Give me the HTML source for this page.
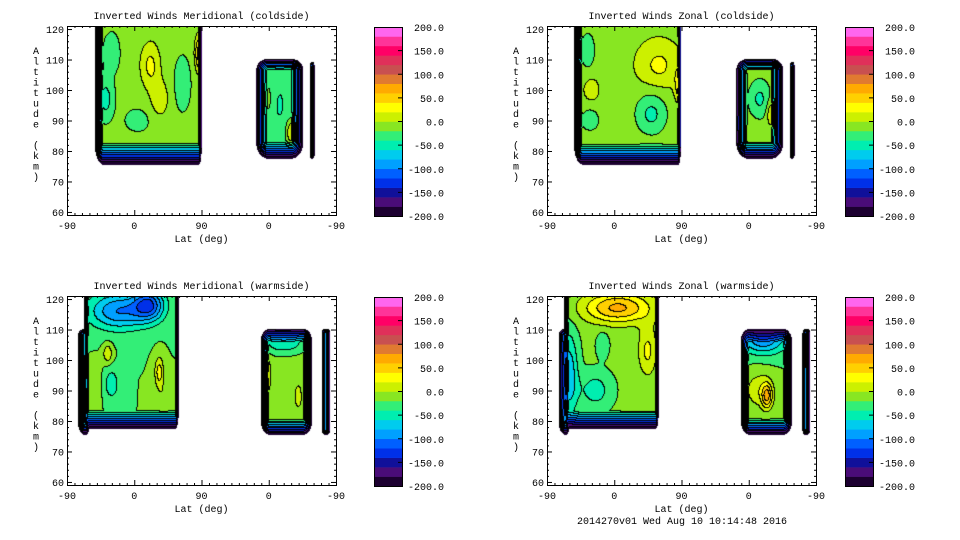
<!DOCTYPE html>
<html><head><meta charset="utf-8">
<style>
html,body{margin:0;padding:0;background:#fff;}
#root{position:relative;width:960px;height:540px;overflow:hidden;background:#fff;font-family:"Liberation Mono",monospace;}
canvas{position:absolute;}
svg{position:absolute;left:0;top:0;}
text{font-family:"Liberation Mono",monospace;font-size:10px;fill:#000;}
</style></head>
<body>
<div id="root">
<svg id="svg" width="960" height="540"></svg>
</div>
<script>
// ---- data ----
const levelColors = ["#1c0030","#4a0c78","#10109a","#0030e8","#0060ff","#00a0ff","#00ccee","#00eeb0","#33ee77","#88e622","#ccf000","#ffff00","#ffd000","#ffaa00","#e07a30","#c85050","#e0305a","#ff0066","#ff3399","#ff66ee"];
const cbLabels = ["200.0","150.0","100.0","50.0","0.0","-50.0","-100.0","-150.0","-200.0"];
const yTicks = [60,70,80,90,100,110,120];
const xTickUnits = [0,90,180,270,360];
const xTickLabels = ["-90","0","90","0","-90"];
const panelTitles = ["Inverted Winds Meridional (coldside)","Inverted Winds Zonal (coldside)","Inverted Winds Meridional (warmside)","Inverted Winds Zonal (warmside)"];
// regions: [u0,u1,altLo,altHi,base,marginL,marginR,marginB,marginT]
const regionsP1 = [[36,180,75.5,125,-15,9,3,22,0],[252,316,77.5,110.5,-30,12,12,17,12],[324,331,77.5,109.5,-80,2.5,2.5,5,5]];
const regionsP2 = [[35,179,75.5,125,-5,9,3,22,0],[252,316,77.5,110.5,-15,12,12,17,12],[324,331,77.5,109.5,-80,2.5,2.5,5,5]];
const regionsP3 = [[14,30,75.5,110.5,-60,7,4,12,6],[22,149,77.5,125,-20,5,3,18,0],[258,328,75.5,110.5,-10,9,9,16,14],[340,352,75.5,110.5,-90,3.5,3.5,5,5]];
const regionsP4 = [[15,30,75.5,110.5,-60,7,4,12,6],[22,149,77.5,125,-15,5,3,18,0],[258,328,75.5,110.5,-20,9,9,16,14],[341,352,75.5,110.5,-90,3.5,3.5,5,5]];
// blobs: [u,alt,amplitude,sigmaU,sigmaAlt]
const blobsP1 = [[112,108,40,14,8],[125,97,30,12,6],[52,97,-35,10,6],[178,112,70,6,6],[155,102,-20,10,8],[60,112,-20,10,6],[95,90,-12,18,4],[300,86,50,6,4],[270,97,15,7,6],[285,95,-12,10,8]];
const blobsP2 = [[150,108,30,25,7],[178,102,50,6,5],[140,92,-40,22,7],[58,90,-30,14,4],[55,113,-35,10,6],[60,100,25,8,3],[300,92,35,5,4],[285,97,-30,12,5],[257,89,20,4,3]];
const blobsP3 = [[70,116,-80,40,6],[110,118,-90,20,5],[60,92,-35,10,5],[55,102,40,6,3],[124,96,50,6,5],[40,92,10,10,6],[130,88,15,10,5],[268,95,35,5,5],[310,88,20,5,4],[290,106,-50,30,4]];
const blobsP4 = [[95,117,80,45,5],[135,103,40,12,8],[30,95,-60,12,14],[65,90,-35,22,6],[75,105,-25,8,4],[295,88,70,7,4],[285,90,35,20,6],[290,107,-80,30,5]];

const panels = [
 {px:67, py:26, cbx:374, name:"meridional-coldside", regions:regionsP1, blobs:blobsP1, title:panelTitles[0]},
 {px:547,py:26, cbx:845, name:"zonal-coldside", regions:regionsP2, blobs:blobsP2, title:panelTitles[1]},
 {px:67, py:296,cbx:374, name:"meridional-warmside", regions:regionsP3, blobs:blobsP3, title:panelTitles[2]},
 {px:547,py:296,cbx:845, name:"zonal-warmside", regions:regionsP4, blobs:blobsP4, title:panelTitles[3]}
];
const W=269, H=189, ALT0=59, ALT1=121;
const svg=document.getElementById('svg');
const root=document.getElementById('root');
const NS="http://www.w3.org/2000/svg";
function mk(tag,attrs,parent){const e=document.createElementNS(NS,tag);for(const k in attrs)e.setAttribute(k,attrs[k]);(parent||svg).appendChild(e);return e;}
function xs(u){return u/360*W;}
function ys(a){return H-(a-ALT0)/(ALT1-ALT0)*H;}

panels.forEach((p,pi)=>{
  const cv=document.createElement('canvas');
  cv.width=W;cv.height=H;cv.style.left=p.px+'px';cv.style.top=p.py+'px';
  
  
  root.insertBefore(cv,svg);
  const ctx=cv.getContext('2d');
  const lev=new Int16Array(W*H).fill(-1);
  for(let y=0;y<H;y++){
    const alt=ALT0+(H-y-0.5)/H*(ALT1-ALT0);
    for(let x=0;x<W;x++){
      const u=(x+0.5)/W*360;
      let f=0;
      for(const b of p.blobs){const du=(u-b[0])/b[3],da=(alt-b[1])/b[4];f+=b[2]*Math.exp(-(du*du+da*da));}
      let best=-999;
      for(const r of p.regions){
        const x0=xs(r[0]),x1=xs(r[1]),y0=ys(r[3]),y1=ys(r[2]);
        if(x<x0||x>x1||y<y0||y>y1)continue;
        const dl=x-x0,dr=x1-x,db=y1-y,dt=y-y0;
        let tx=Math.min(r[5]>0?dl/r[5]:1,r[6]>0?dr/r[6]:1,1);
        let ty=Math.min(r[7]>0?db/r[7]:1,r[8]>0?dt/r[8]:1,1);
        let t=1-Math.sqrt((1-tx)*(1-tx)+(1-ty)*(1-ty));
        if(t<0)continue;
        const v=-205+t*(r[4]+f+205);
        if(v>best)best=v;
      }
      if(best>-200){lev[y*W+x]=Math.max(0,Math.min(19,Math.floor((best+200)/20)));}
    }
  }
  const img=ctx.createImageData(W,H);
  const rgb=levelColors.map(c=>[parseInt(c.substr(1,2),16),parseInt(c.substr(3,2),16),parseInt(c.substr(5,2),16)]);
  for(let y=0;y<H;y++)for(let x=0;x<W;x++){
    const i=y*W+x,l=lev[i];if(l<0)continue;
    let c=rgb[l];
    const r=x+1<W?lev[i+1]:l, d=y+1<H?lev[i+W]:l;
    if((r>=0&&r!==l)||(d>=0&&d!==l))c=[0,0,0];
    img.data[i*4]=c[0];img.data[i*4+1]=c[1];img.data[i*4+2]=c[2];img.data[i*4+3]=255;
  }
  ctx.putImageData(img,0,0);

  const g=mk('g',{});
  const fr=mk('rect',{x:p.px+0.5,y:p.py+0.5,width:W,height:H,fill:'none',stroke:'#000','stroke-width':1},g);
  
  for(let a=60;a<=120;a+=2){
    const yy=p.py+ys(a)+0.5, maj=a%10===0, L=maj?5:2;
    mk('line',{x1:p.px,x2:p.px+L,y1:yy,y2:yy,stroke:'#000'},g);
    mk('line',{x1:p.px+W-L,x2:p.px+W,y1:yy,y2:yy,stroke:'#000'},g);
  }
  yTicks.forEach(a=>{
    const t=mk('text',{x:p.px-3,y:p.py+ys(a)+4,'text-anchor':'end'},g);t.textContent=a;
    
  });
  for(let u=0;u<=360;u+=10){
    const xx=p.px+xs(u)+0.5, maj=u%90===0, L=maj?5:2;
    mk('line',{x1:xx,x2:xx,y1:p.py+H,y2:p.py+H-L,stroke:'#000'},g);
    mk('line',{x1:xx,x2:xx,y1:p.py,y2:p.py+L,stroke:'#000'},g);
  }
  xTickUnits.forEach((u,i)=>{
    const t=mk('text',{x:p.px+xs(u),y:p.py+H+14,'text-anchor':'middle'},g);t.textContent=xTickLabels[i];
    
  });
  const xt=mk('text',{x:p.px+W/2,y:p.py+H+27,'text-anchor':'middle'},g);xt.textContent="Lat (deg)";
  
  const tt=mk('text',{x:p.px+W/2,y:p.py-7,'text-anchor':'middle'},g);tt.textContent=p.title;
  
  const yt=mk('text',{x:p.px-31,y:p.py+28,'text-anchor':'middle'},g);
  
  "Altitude (km)".split('').forEach((ch,i)=>{const s=mk('tspan',{x:p.px-31,y:p.py+28+i*10.5},yt);s.textContent=ch;});
  const cb=mk('g',{});
  const cbH=189, bandH=cbH/20, cbW=28, cby=p.py+1;
  levelColors.forEach((c,i)=>{
    const r=mk('rect',{x:p.cbx,y:cby+cbH-(i+1)*bandH,width:cbW,height:bandH+0.3,fill:c},cb);
    
  });
  mk('rect',{x:p.cbx+0.5,y:cby+0.5,width:cbW,height:cbH,fill:'none',stroke:'#000'},cb);
  cbLabels.forEach((lab,i)=>{
    const yy=cby+i*cbH/8;
    if(i>0&&i<8)mk('line',{x1:p.cbx+cbW-4,x2:p.cbx+cbW,y1:yy,y2:yy,stroke:'#000'},cb);
    const t=mk('text',{x:p.cbx+70,y:yy+4,'text-anchor':'end'},cb);t.textContent=lab;
    
  });
});
const ft=mk('text',{x:682,y:524,'text-anchor':'middle'});ft.textContent="2014270v01 Wed Aug 10 10:14:48 2016";

</script>
</body></html>
